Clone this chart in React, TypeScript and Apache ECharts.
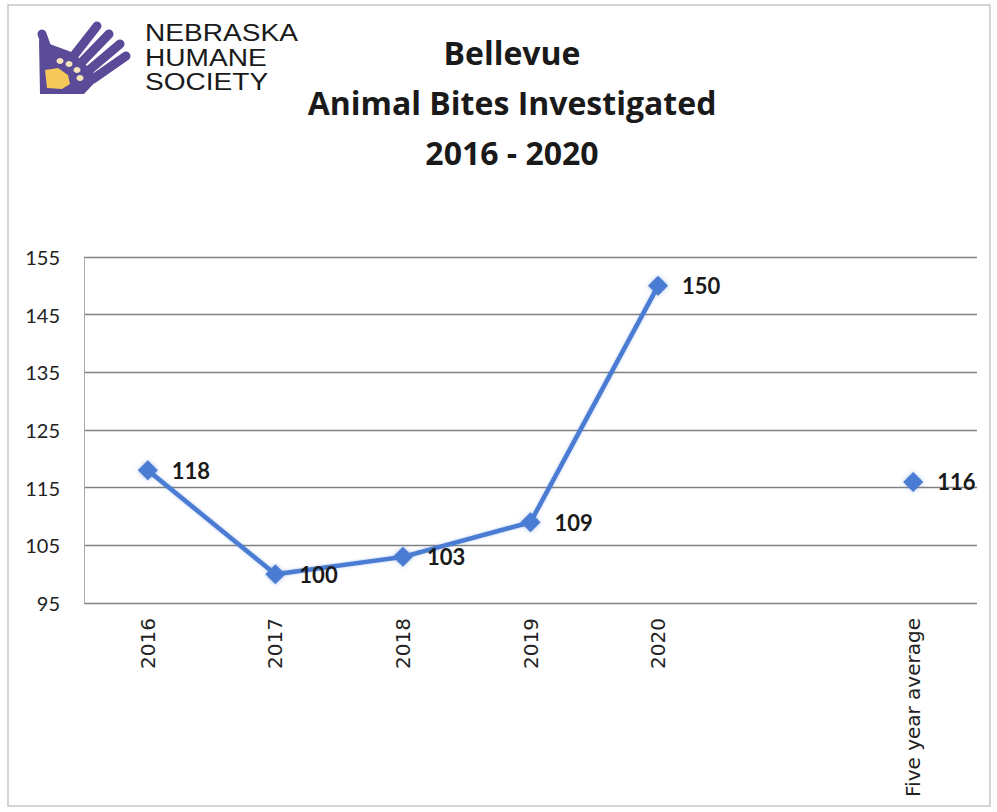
import React, { useEffect, useRef } from "react";
import * as echarts from "echarts";

const categories = ["2016", "2017", "2018", "2019", "2020", "", "Five year average"];
const bites = [118, 100, 103, 109, 150, null, 116];
const yTicks = { min: 95, max: 155, interval: 10 };
const titleLines = ["Bellevue", "Animal Bites Investigated", "2016 - 2020"];
const orgLines = ["NEBRASKA", "HUMANE", "SOCIETY"];

const BLUE = "#4a7bd2";
const PURPLE = "#5a4a98";

export default function App() {
  const ref = useRef<HTMLDivElement>(null);
  useEffect(() => {
    const chart = echarts.init(ref.current!, null, { renderer: "svg" });
    const finger = (x1: number, y1: number, x2: number, y2: number) => ({
      type: "line",
      shape: { x1, y1, x2, y2 },
      style: { stroke: PURPLE, lineWidth: 9, lineCap: "round" },
    });
    chart.setOption({
      animation: false,
      backgroundColor: "#ffffff",
      grid: { left: 84, right: 20, top: 257, bottom: 209, containLabel: false },
      xAxis: {
        type: "category",
        data: categories,
        boundaryGap: true,
        axisLine: { show: false },
        axisTick: { show: false },
        axisLabel: {
          rotate: 90,
          interval: 0,
          margin: 15,
          fontFamily: "DejaVu Sans",
          fontSize: 20,
          color: "#222",
        },
      },
      yAxis: {
        type: "value",
        min: yTicks.min,
        max: yTicks.max,
        interval: yTicks.interval,
        axisLine: { show: true, lineStyle: { color: "#aaa", width: 1 } },
        axisTick: { show: false },
        axisLabel: { margin: 24, fontFamily: "Lato", fontSize: 20, color: "#222" },
        splitLine: { show: true, lineStyle: { color: "#808080", width: 1.3 } },
      },
      series: [
        {
          type: "line",
          data: bites,
          connectNulls: false,
          symbol: "diamond",
          symbolSize: 20,
          lineStyle: { color: BLUE, width: 4.5, shadowColor: "rgba(74,123,210,0.4)", shadowBlur: 3 },
          itemStyle: { color: BLUE, shadowColor: "rgba(74,123,210,0.5)", shadowBlur: 4 },
          label: {
            show: true,
            position: "right",
            distance: 14,
            fontFamily: "Lato",
            fontWeight: "bold",
            fontSize: 22,
            color: "#1a1a1a",
          },
        },
      ],
      graphic: [
        {
          type: "rect",
          shape: { x: 8, y: 5, width: 982, height: 801 },
          style: { fill: "none", stroke: "#c8c8c8", lineWidth: 1.5 },
          silent: true,
        },
        // logo: hand
        {
          type: "polygon",
          shape: { points: [[39, 40], [74, 53], [99, 78], [84, 94], [40, 94]] },
          style: { fill: PURPLE },
        },
        finger(42, 34, 52, 62),
        finger(72, 58, 97, 26),
        finger(80, 64, 109, 34),
        finger(88, 71, 120, 44),
        finger(93, 79, 126, 56),
        // paw
        {
          type: "polygon",
          shape: { points: [[45, 70], [58, 68], [68, 75], [70, 84], [62, 89], [47, 88]] },
          style: { fill: "#f5c85a" },
        },
        { type: "ellipse", shape: { cx: 60, cy: 61, rx: 3.5, ry: 3 }, style: { fill: "#f6e4b8" } },
        { type: "ellipse", shape: { cx: 69, cy: 64, rx: 3.5, ry: 3 }, style: { fill: "#f6e4b8" } },
        { type: "ellipse", shape: { cx: 77, cy: 70, rx: 3.5, ry: 3 }, style: { fill: "#f6e4b8" } },
        { type: "ellipse", shape: { cx: 80, cy: 78, rx: 3.5, ry: 3 }, style: { fill: "#f6e4b8" } },
        ...orgLines.map((t, i) => ({
          type: "text",
          x: 145,
          y: 21 + i * 24.5,
          scaleX: 1.17,
          style: {
            text: t,
            fontFamily: "Liberation Sans",
            fontSize: 24,
            fill: "#1a1a1a",
          },
        })),
        ...titleLines.map((t, i) => ({
          type: "text",
          x: 512,
          y: 52 + i * 50,
          style: {
            text: t,
            fontFamily: "Open Sans",
            fontWeight: "bold",
            fontSize: 32,
            fill: "#1a1a1a",
            align: "center",
            verticalAlign: "middle",
          },
        })),
      ],
    });
    return () => chart.dispose();
  }, []);
  return (
    <div
      ref={ref}
      style={{ position: "fixed", left: 0, top: 0, width: 997, height: 812 }}
    />
  );
}
